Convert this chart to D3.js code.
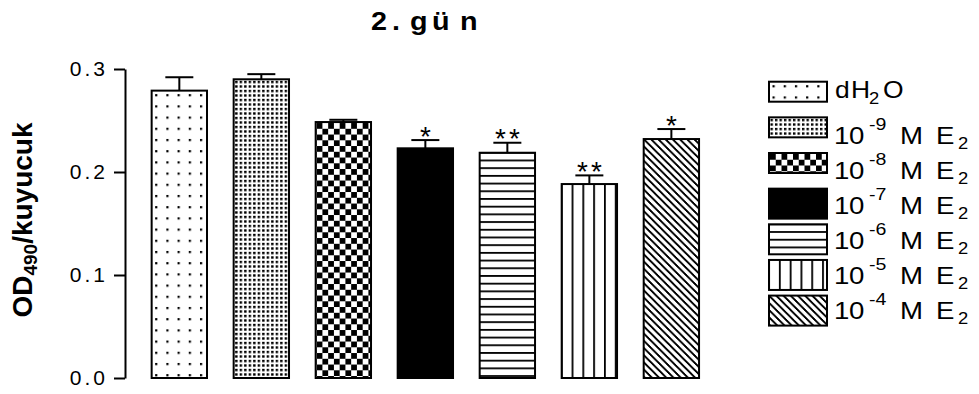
<!DOCTYPE html>
<html>
<head>
<meta charset="utf-8">
<script src="https://cdn.jsdelivr.net/npm/d3@7/dist/d3.min.js"></script>
<style>
  body { margin: 0; background: #fff; }
  svg { display: block; }
  text { font-family: "Liberation Sans", Arial, Helvetica, sans-serif; fill: #000; }
</style>
</head>
<body>
<svg id="chart" width="979" height="394"></svg>
<script>
// Treatment groups (day 2), mean OD490 per well and SEM
const groups    = ["dH2O", "1e-9", "1e-8", "1e-7", "1e-6", "1e-5", "1e-4"];
const exponents = [null, "-9", "-8", "-7", "-6", "-5", "-4"];
const means     = [0.279, 0.290, 0.2485, 0.223, 0.2187, 0.1883, 0.232];
const sems      = [0.013, 0.005, 0.0022, 0.008, 0.0097, 0.0084, 0.0097];
const stars     = ["", "", "", "*", "**", "**", "*"];
const fills     = ["dotsSparse", "dotsDense", "checker", "solid", "hlines", "vlines", "diag"];
const yTicks    = [0, 0.1, 0.2, 0.3];

const svg = d3.select("#chart");
const defs = svg.append("defs");

const x = d3.scaleBand().domain(groups).range([125, 725.7]).padding(0.325);
const y = d3.scaleLinear().domain([0, 0.3]).range([378, 69]);

// Monochrome fill patterns, anchored at the top-left corner of the shape that uses them
function addPattern(id, kind, ox, oy) {
  const p = defs.append("pattern").attr("id", id).attr("patternUnits", "userSpaceOnUse");
  const rect = (rx, ry, w, h, f) => p.append("rect").attr("x", rx).attr("y", ry)
    .attr("width", w).attr("height", h).attr("fill", f);
  let w = 4, h = 4, dx = 0, dy = 0;
  switch (kind) {
    case "dotsSparse":
      w = h = 11.2; rect(0, 0, w, h, "#fff"); rect(0, 0, 2.2, 2.2, "#000"); dx = 3.5; dy = 3.5; break;
    case "dotsDense":
      w = h = 4.5; rect(0, 0, w, h, "#fff"); rect(0, 0, 2.4, 2.4, "#000"); dx = 1.5; dy = 1.5; break;
    case "checker":
      w = h = 11.5; rect(0, 0, w, h, "#fff");
      rect(0, 0, 5.75, 5.75, "#000"); rect(5.75, 5.75, 5.75, 5.75, "#000"); dx = 1; dy = 1; break;
    case "solid":
      rect(0, 0, w, h, "#000"); break;
    case "hlines":
      w = 4; h = 7.7; rect(0, 0, w, h, "#fff"); rect(0, 0, w, 1.8, "#000"); dy = 7.7 - 0.9; break;
    case "vlines":
      w = 10.8; h = 4; rect(0, 0, w, h, "#fff"); rect(0, 0, 1.8, h, "#000"); dx = 10.8 - 0.9; break;
    case "diag":
      w = h = 7.2; rect(0, 0, w, h, "#fff");
      p.append("path")
        .attr("d", `M-1,-1L${w + 1},${h + 1}M-1,${h - 1}L1,${h + 1}M${w - 1},-1L${w + 1},1`)
        .attr("stroke", "#000").attr("stroke-width", 1.5).attr("fill", "none")
        .attr("shape-rendering", "crispEdges");
      break;
  }
  p.attr("width", w).attr("height", h).attr("x", ox + dx).attr("y", oy + dy);
}

// Title
const title = svg.append("text")
  .attr("transform", "translate(370,30) scale(1.15,1)")
  .attr("font-size", 25).attr("font-weight", "bold");
[["2", 371], [".", 392], ["g", 410], ["ü", 432], ["n", 460]].forEach(([ch, cx]) =>
  title.append("tspan").attr("x", (cx - 370) / 1.15).text(ch));

// Y axis
const yAxis = svg.append("g")
  .attr("transform", "translate(125,0)")
  .call(d3.axisLeft(y).tickValues(yTicks).tickFormat(d3.format(".1f"))
    .tickSize(11).tickSizeOuter(0).tickPadding(6));
yAxis.attr("font-family", null);
yAxis.select(".domain").attr("stroke", "#000").attr("stroke-width", 2);
yAxis.selectAll(".tick line").attr("stroke", "#000").attr("stroke-width", 2);
yAxis.selectAll(".tick text")
  .attr("font-size", 21).attr("letter-spacing", 3)
  .style("font-family", '"Liberation Sans", Arial, sans-serif');

// Y axis title
const yLabel = svg.append("text")
  .attr("transform", "translate(32,220) rotate(-90)")
  .attr("text-anchor", "middle")
  .attr("font-size", 28).attr("font-weight", "bold");
yLabel.append("tspan").text("OD");
yLabel.append("tspan").attr("font-size", 19).attr("dy", 5).text("490");
yLabel.append("tspan").attr("dy", -5).text("/kuyucuk");

// Bars
groups.forEach((g, i) => addPattern(`bar-fill-${i}`, fills[i], x(g), y(means[i])));

svg.append("g").selectAll("rect")
  .data(groups)
  .join("rect")
  .attr("x", d => x(d))
  .attr("y", (d, i) => y(means[i]))
  .attr("width", x.bandwidth())
  .attr("height", (d, i) => y(0) - y(means[i]))
  .attr("fill", (d, i) => `url(#bar-fill-${i})`)
  .attr("stroke", "#000")
  .attr("stroke-width", 2);

// Error bars (upper half, SEM)
const err = svg.append("g").attr("stroke", "#000").attr("stroke-width", 2);
groups.forEach((g, i) => {
  const cx = x(g) + x.bandwidth() / 2;
  const top = y(means[i] + sems[i]);
  err.append("line").attr("x1", cx).attr("x2", cx).attr("y1", y(means[i])).attr("y2", top);
  err.append("line").attr("x1", cx - 14).attr("x2", cx + 14).attr("y1", top).attr("y2", top);
});

// Significance markers
const sig = svg.append("g").attr("font-size", 28).attr("text-anchor", "middle");
groups.forEach((g, i) => {
  const k = stars[i].length;
  const cx = x(g) + x.bandwidth() / 2;
  const top = y(means[i] + sems[i]);
  for (let j = 0; j < k; j++) {
    sig.append("text").attr("x", cx + (j - (k - 1) / 2) * 14).attr("y", top + 5.5).text("*");
  }
});

// Legend
const legend = svg.append("g");
const sx = 1.15;
const lx = v => (v - 834) / sx;
groups.forEach((g, i) => {
  const top = 81.7 + i * 35.65;
  const h = i < 3 ? 20 : 30;
  addPattern(`legend-fill-${i}`, fills[i], 769, top);
  legend.append("rect")
    .attr("x", 769).attr("y", top).attr("width", 58).attr("height", h)
    .attr("fill", `url(#legend-fill-${i})`)
    .attr("stroke", "#000").attr("stroke-width", 2);

  if (i === 0) {
    const t = legend.append("text")
      .attr("transform", `translate(834,98) scale(${sx},1)`).attr("font-size", 23);
    t.append("tspan").attr("x", lx(835)).text("d");
    t.append("tspan").attr("x", lx(851)).text("H");
    t.append("tspan").attr("x", lx(869)).attr("dy", 6).attr("font-size", 16).text("2");
    t.append("tspan").attr("x", lx(883)).attr("dy", -6).text("O");
  } else {
    const base = 144 + (i - 1) * 35;
    const t = legend.append("text")
      .attr("transform", `translate(834,${base}) scale(${sx},1)`).attr("font-size", 24);
    t.append("tspan").attr("x", lx(834)).text("1");
    t.append("tspan").attr("x", lx(849)).text("0");
    t.append("tspan").attr("x", lx(869)).attr("dy", -14).attr("font-size", 17).text(exponents[i]);
    t.append("tspan").attr("x", lx(900)).attr("dy", 14).text("M");
    t.append("tspan").attr("x", lx(936)).text("E");
    t.append("tspan").attr("x", lx(958)).attr("dy", 5).attr("font-size", 16).text("2");
  }
});
</script>
</body>
</html>
